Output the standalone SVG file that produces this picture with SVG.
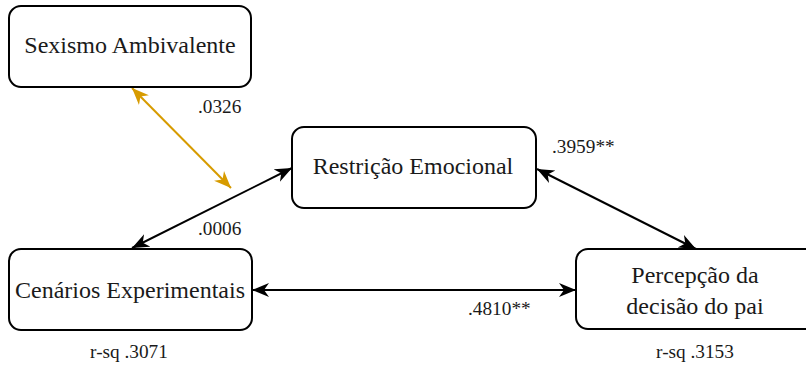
<svg xmlns="http://www.w3.org/2000/svg" width="806" height="365" viewBox="0 0 806 365">
  <style>
    .box { fill: #ffffff; stroke: #000000; stroke-width: 2; }
    text { font-family: "Liberation Serif", "Times New Roman", serif; fill: #1a1a1a; }
    .label { font-size: 24px; text-anchor: middle; }
    .coef { font-size: 19.3px; }
    .mid { text-anchor: middle; }
    .link { fill: none; stroke-width: 2; }
  </style>
  <defs>
    <marker id="arrowBlack" markerUnits="userSpaceOnUse" markerWidth="19" markerHeight="16" refX="17" refY="7" orient="auto-start-reverse">
      <path d="M0,0 L17,7 L0,14 L5,7 Z" fill="#000000"/>
    </marker>
    <marker id="arrowGold" markerUnits="userSpaceOnUse" markerWidth="19" markerHeight="16" refX="17" refY="7" orient="auto-start-reverse">
      <path d="M0,0 L17,7 L0,14 L5,7 Z" fill="#d79b00"/>
    </marker>
  </defs>

  <!-- bidirectional paths with their coefficients -->
  <g id="connectors">
    <line class="link" x1="132" y1="88" x2="231" y2="188" stroke="#d79b00" marker-start="url(#arrowGold)" marker-end="url(#arrowGold)"/>
    <line class="link" x1="132" y1="248" x2="292" y2="168" stroke="#000000" marker-start="url(#arrowBlack)" marker-end="url(#arrowBlack)"/>
    <line class="link" x1="537" y1="169" x2="696" y2="249" stroke="#000000" marker-start="url(#arrowBlack)" marker-end="url(#arrowBlack)"/>
    <line class="link" x1="252" y1="290" x2="576" y2="290" stroke="#000000" marker-start="url(#arrowBlack)" marker-end="url(#arrowBlack)"/>
    <text class="coef" x="198" y="113">.0326</text>
    <text class="coef" x="198" y="235">.0006</text>
    <text class="coef" x="552" y="153">.3959**</text>
    <text class="coef" x="468" y="315">.4810**</text>
  </g>

  <g id="sexismo">
    <rect class="box" x="9" y="6" width="242" height="81" rx="12" ry="12"/>
    <text class="label" x="130" y="53">Sexismo Ambivalente</text>
  </g>

  <g id="restricao">
    <rect class="box" x="292" y="127" width="244" height="81" rx="12" ry="12"/>
    <text class="label" x="413" y="174">Restrição Emocional</text>
  </g>

  <g id="cenarios">
    <rect class="box" x="9" y="249" width="243" height="81" rx="12" ry="12"/>
    <text class="label" x="130" y="298">Cenários Experimentais</text>
    <text class="coef mid" x="129" y="358">r-sq .3071</text>
  </g>

  <g id="percepcao">
    <rect class="box" x="576" y="249" width="243" height="80" rx="12" ry="12"/>
    <text class="label" x="695" y="283">Percepção da</text>
    <text class="label" x="695" y="314">decisão do pai</text>
    <text class="coef mid" x="695" y="358">r-sq .3153</text>
  </g>
</svg>
